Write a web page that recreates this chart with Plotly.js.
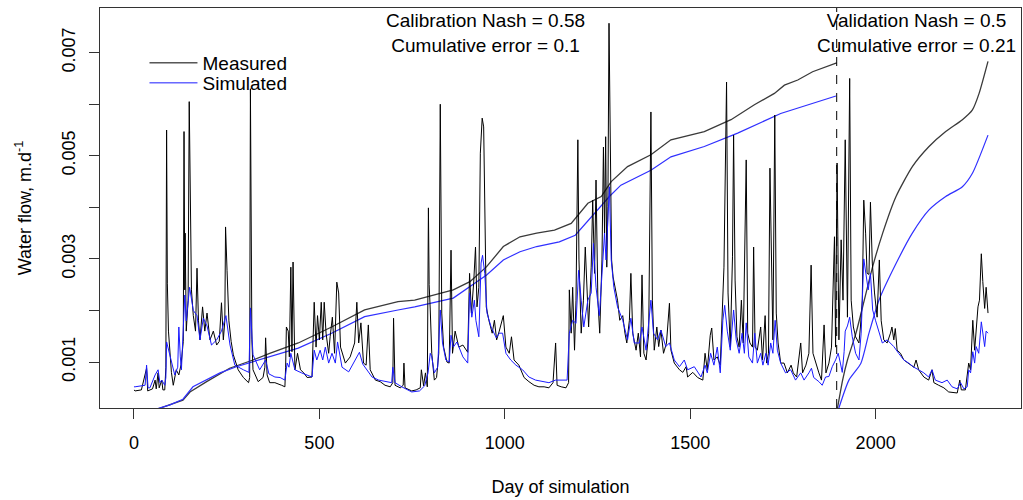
<!DOCTYPE html>
<html>
<head>
<meta charset="utf-8">
<script src="https://cdn.plot.ly/plotly-3.0.1.min.js"></script>
<style>html,body{margin:0;padding:0;background:#fff;}#chart{width:1023px;height:500px;}</style>
</head>
<body>
<div id="chart"></div>
<script>
// ---- data ----
// Daily measured water flow, [day, m/d]
const measured = [
[0,0.00046],[3,0.00044],[20,0.00046],[34,0.00088],[37,0.00044],[50,0.00048],[57,0.00065],[60,0.00048],[65,0.00079],[68,0.0005],
[75,0.00065],[78,0.00046],[83,0.00046],[86,0.0009],[88,0.0055],[90,0.00253],[93,0.0016],[101,0.0008],[106,0.00055],[114,0.00085],
[121,0.00075],[127,0.00095],[133,0.0014],[135,0.00547],[137,0.0024],[138,0.0035],[141,0.0016],[146,0.0022],[149,0.00605],[152,0.00395],
[155,0.0024],[160,0.0019],[166,0.0016],[170,0.00282],[174,0.0018],[178,0.00143],[185,0.00207],[191,0.0016],[197,0.00195],[205,0.00143],
[214,0.0016],[223,0.00133],[230,0.0014],[236,0.00215],[241,0.00143],[245,0.0018],[247,0.00362],[251,0.00277],[256,0.0018],[262,0.0014],
[268,0.00114],[281,0.00085],[295,0.0007],[309,0.0006],[312,0.0007],[314,0.0063],[318,0.00143],[321,0.00085],[335,0.00062],[348,0.0007],
[353,0.0009],[355,0.00147],[359,0.00075],[366,0.0006],[380,0.0006],[398,0.00055],[407,0.00052],[409,0.0009],[411,0.00168],[416,0.0016],
[419,0.0011],[423,0.00284],[426,0.0012],[429,0.00294],[434,0.00085],[441,0.00117],[449,0.00085],[458,0.00079],[467,0.0007],[480,0.00071],
[486,0.00216],[491,0.00129],[495,0.0019],[500,0.00143],[505,0.00216],[509,0.00143],[513,0.00216],[518,0.00156],[525,0.00117],[529,0.00149],
[535,0.00187],[541,0.00117],[547,0.00255],[552,0.00234],[557,0.00129],[570,0.00098],[583,0.0011],[595,0.00137],[601,0.00216],[606,0.00137],
[612,0.00176],[619,0.00098],[626,0.00094],[632,0.00172],[637,0.00085],[651,0.00065],[664,0.00062],[677,0.00055],[691,0.00052],[698,0.0006],
[700,0.00185],[704,0.00055],[718,0.0005],[726,0.00055],[728,0.00098],[731,0.0005],[749,0.00044],[761,0.00046],[772,0.0005],[775,0.00085],
[781,0.00054],[786,0.00079],[791,0.00052],[794,0.00399],[796,0.0025],[799,0.00201],[803,0.00117],[810,0.00065],[816,0.0007],[822,0.00117],
[826,0.006],[830,0.00195],[835,0.00129],[844,0.001],[850,0.00098],[855,0.00317],[859,0.00117],[866,0.0016],[871,0.00143],[876,0.00129],
[887,0.00133],[900,0.00119],[905,0.00272],[910,0.00195],[916,0.00253],[921,0.00323],[925,0.00207],[930,0.00245],[934,0.00505],[939,0.00573],
[943,0.00556],[946,0.0035],[950,0.00207],[957,0.00181],[966,0.00156],[972,0.00181],[978,0.00143],[985,0.0016],[996,0.0019],[1003,0.00129],
[1012,0.00117],[1018,0.00149],[1025,0.00104],[1038,0.00094],[1052,0.0007],[1065,0.00062],[1079,0.00055],[1092,0.00052],[1106,0.00052],[1119,0.0005],
[1130,0.0006],[1137,0.00137],[1141,0.00055],[1152,0.00052],[1165,0.0005],[1172,0.0006],[1174,0.0024],[1179,0.00156],[1183,0.00245],[1188,0.00123],
[1192,0.0022],[1197,0.00531],[1200,0.00298],[1206,0.00156],[1212,0.0022],[1217,0.00323],[1222,0.0022],[1226,0.00168],[1233,0.00284],[1237,0.00414],
[1242,0.00272],[1246,0.00453],[1251,0.0022],[1256,0.00156],[1262,0.00298],[1266,0.00517],[1269,0.0035],[1272,0.00537],[1275,0.00284],[1278,0.00401],
[1281,0.00757],[1285,0.00478],[1288,0.00298],[1292,0.00265],[1297,0.00245],[1304,0.0022],[1310,0.00181],[1318,0.0019],[1324,0.00156],[1329,0.00137],
[1336,0.00181],[1340,0.00272],[1345,0.00156],[1354,0.00123],[1360,0.00156],[1366,0.0011],[1370,0.00269],[1375,0.00117],[1381,0.00104],[1388,0.00156],
[1394,0.00585],[1398,0.0022],[1403,0.00123],[1410,0.00168],[1415,0.0013],[1421,0.00162],[1428,0.00117],[1436,0.00137],[1444,0.00214],[1448,0.00123],
[1457,0.00098],[1471,0.00085],[1480,0.0008],[1489,0.00091],[1493,0.00071],[1507,0.0008],[1520,0.0007],[1534,0.00065],[1540,0.00117],[1546,0.00085],
[1554,0.00152],[1558,0.00166],[1564,0.00104],[1573,0.0011],[1581,0.00094],[1587,0.00226],[1591,0.00284],[1598,0.00643],[1602,0.00234],[1608,0.00129],
[1614,0.00304],[1617,0.0054],[1621,0.00259],[1626,0.00149],[1632,0.00129],[1638,0.0022],[1643,0.00137],[1651,0.00492],[1655,0.00156],[1661,0.00137],
[1668,0.00129],[1671,0.00323],[1675,0.00129],[1681,0.00123],[1690,0.00168],[1695,0.00104],[1702,0.0019],[1706,0.00098],[1711,0.00117],[1715,0.00476],
[1720,0.00207],[1723,0.00143],[1728,0.00579],[1732,0.00195],[1737,0.00137],[1744,0.00098],[1753,0.00098],[1762,0.00079],[1772,0.00094],[1778,0.00079],
[1787,0.00071],[1798,0.00137],[1803,0.00079],[1812,0.00094],[1820,0.00117],[1826,0.00288],[1831,0.00117],[1838,0.00098],[1847,0.00079],[1854,0.00065],
[1861,0.00172],[1866,0.00079],[1874,0.00098],[1881,0.00129],[1885,0.00245],[1889,0.00343],[1892,0.00129],[1896,0.00486],[1901,0.00143],[1907,0.00337],
[1912,0.0022],[1915,0.00414],[1918,0.00531],[1924,0.00187],[1930,0.0065],[1934,0.0022],[1940,0.00168],[1946,0.00149],[1955,0.00137],[1959,0.00168],
[1964,0.0022],[1968,0.00414],[1973,0.0035],[1977,0.00272],[1982,0.0027],[1986,0.0041],[1991,0.00292],[1997,0.00234],[2004,0.00187],[2010,0.00298],
[2015,0.0018],[2022,0.00143],[2031,0.00137],[2040,0.00156],[2044,0.00168],[2049,0.00143],[2053,0.00165],[2058,0.00123],[2067,0.00117],[2076,0.00104],
[2089,0.00098],[2103,0.0009],[2109,0.00104],[2116,0.00085],[2130,0.00071],[2143,0.00065],[2152,0.00085],[2157,0.0006],[2170,0.00055],[2184,0.0005],
[2197,0.00042],[2211,0.0004],[2220,0.0004],[2227,0.00065],[2231,0.00046],[2242,0.00046],[2247,0.00071],[2251,0.00098],[2256,0.00085],[2262,0.00181],
[2267,0.00123],[2271,0.00156],[2276,0.00207],[2280,0.0022],[2285,0.0031],[2289,0.00256],[2294,0.00204],[2298,0.00245],[2303,0.00195]
];

// Daily simulated water flow, [day, m/d]
const simulated = [
[0,0.00052],[3,0.00052],[30,0.00055],[34,0.00094],[38,0.0005],[43,0.0005],[57,0.00075],[65,0.00085],[70,0.0006],[75,0.00065],
[83,0.00055],[86,0.0007],[88,0.00139],[96,0.00114],[110,0.00075],[118,0.0009],[121,0.00168],[125,0.0011],[128,0.00085],[137,0.0023],
[141,0.0018],[150,0.00245],[160,0.002],[170,0.0019],[178,0.00143],[187,0.00185],[197,0.0017],[209,0.00133],[223,0.00143],[236,0.0016],
[248,0.0019],[259,0.00133],[272,0.00094],[295,0.00085],[310,0.0008],[314,0.00205],[321,0.00114],[339,0.00085],[355,0.00104],[364,0.00077],
[380,0.00071],[394,0.0007],[407,0.00065],[413,0.00098],[418,0.0009],[423,0.00117],[434,0.00085],[452,0.00079],[480,0.00071],[486,0.00123],
[493,0.00104],[502,0.00123],[509,0.00104],[516,0.00129],[525,0.00098],[534,0.00117],[543,0.00098],[549,0.00139],[561,0.0009],[579,0.00081],
[597,0.00104],[608,0.00119],[617,0.00096],[629,0.00085],[642,0.00071],[660,0.00065],[677,0.00062],[695,0.0006],[698,0.0009],[704,0.0006],
[722,0.00052],[749,0.00042],[770,0.00044],[784,0.00054],[793,0.00079],[799,0.00117],[803,0.0011],[810,0.00079],[819,0.0009],[826,0.00201],
[832,0.00137],[841,0.00104],[850,0.001],[855,0.00152],[861,0.00129],[871,0.00139],[887,0.0011],[900,0.00098],[905,0.00234],[911,0.00187],
[918,0.0022],[922,0.00181],[930,0.00149],[936,0.00292],[940,0.00307],[946,0.00272],[952,0.00195],[963,0.00168],[977,0.00147],[985,0.00156],
[994,0.00156],[1003,0.00117],[1016,0.00104],[1030,0.00094],[1048,0.00085],[1065,0.00071],[1083,0.00065],[1101,0.00062],[1119,0.0006],[1137,0.00065],
[1152,0.00065],[1168,0.00065],[1174,0.00156],[1183,0.00181],[1192,0.00175],[1199,0.00278],[1206,0.0022],[1213,0.00168],[1224,0.0022],[1233,0.00234],
[1239,0.0033],[1246,0.00245],[1255,0.0019],[1264,0.00284],[1269,0.0035],[1273,0.00298],[1278,0.00375],[1282,0.0044],[1287,0.00298],[1294,0.00245],
[1304,0.00207],[1318,0.00181],[1331,0.00143],[1340,0.00185],[1349,0.00137],[1363,0.00137],[1370,0.00168],[1381,0.00123],[1394,0.0022],[1401,0.00156],
[1412,0.00143],[1421,0.00162],[1434,0.0013],[1444,0.00137],[1457,0.00104],[1471,0.00091],[1484,0.00104],[1493,0.00085],[1511,0.00091],[1529,0.00071],
[1540,0.00094],[1546,0.00079],[1555,0.00117],[1564,0.00094],[1573,0.00129],[1581,0.00079],[1588,0.00181],[1593,0.0021],[1600,0.0016],[1608,0.00123],
[1617,0.00201],[1624,0.00143],[1632,0.00117],[1640,0.00156],[1646,0.00117],[1651,0.00176],[1658,0.0011],[1668,0.00098],[1674,0.00156],[1681,0.00098],
[1690,0.00117],[1696,0.00094],[1704,0.00117],[1710,0.00094],[1717,0.00137],[1723,0.00117],[1729,0.00181],[1735,0.00123],[1744,0.00098],[1757,0.00079],
[1771,0.00085],[1784,0.00065],[1798,0.00079],[1807,0.00065],[1820,0.00079],[1827,0.00088],[1833,0.0007],[1847,0.00062],[1856,0.00055],[1865,0.00071],
[1874,0.00072],[1883,0.00091],[1892,0.00104],[1899,0.00117],[1905,0.00098],[1910,0.0008],[1915,0.0012],[1918,0.0016],[1924,0.0017],[1930,0.00187],
[1937,0.00149],[1946,0.00117],[1955,0.00104],[1961,0.00156],[1968,0.003],[1974,0.00272],[1980,0.0024],[1986,0.00272],[1992,0.00201],[2000,0.0018],
[2009,0.0016],[2018,0.00137],[2031,0.00143],[2040,0.00137],[2049,0.0013],[2062,0.00117],[2076,0.00104],[2089,0.00098],[2103,0.0009],[2116,0.00085],
[2130,0.00079],[2143,0.00071],[2152,0.00085],[2161,0.00065],[2179,0.0006],[2193,0.00065],[2206,0.00052],[2220,0.00048],[2229,0.0006],[2238,0.00048],
[2247,0.00052],[2251,0.00085],[2256,0.00079],[2262,0.0012],[2267,0.00098],[2271,0.0013],[2278,0.00117],[2285,0.00178],[2289,0.00156],[2294,0.0013],
[2298,0.0016],[2303,0.00156]
];

// Cumulative curves (drawn on the same axis), calibration period
const cumCalMeasured = [
[0,0.0],[60,0.00008],[132,0.00026],[151,0.00042],[196,0.00062],[258,0.00088],[321,0.00104],[366,0.00117],[443,0.00137],[533,0.00168],
[622,0.00201],[712,0.00217],[757,0.0022],[861,0.0024],[906,0.00256],[951,0.00285],[996,0.00324],[1041,0.00343],[1086,0.0035],[1134,0.00356],
[1179,0.00369],[1224,0.00408],[1260,0.00421],[1287,0.0045],[1331,0.00479],[1394,0.00502],[1448,0.00531],[1538,0.00547],[1610,0.0057],[1673,0.00599],
[1727,0.00621],[1754,0.00637],[1790,0.00647],[1830,0.00663],[1895,0.0068]
];
const cumCalSimulated = [
[0,0.0],[52,0.00007],[97,0.00017],[132,0.00028],[159,0.00052],[232,0.00079],[276,0.00091],[366,0.0011],[443,0.00127],[533,0.00156],
[622,0.00188],[712,0.00201],[757,0.00207],[861,0.00224],[906,0.00246],[951,0.00269],[996,0.00298],[1041,0.00314],[1086,0.00324],[1147,0.00333],
[1190,0.00346],[1242,0.00388],[1282,0.00421],[1313,0.00443],[1394,0.00472],[1448,0.00498],[1538,0.00518],[1628,0.00544],[1744,0.00582],[1893,0.00616]
];
// Cumulative curves, validation period
const cumValMeasured = [
[1895,0.00002],[1911,0.00065],[1924,0.00104],[1947,0.00156],[1965,0.00207],[1992,0.00285],[2019,0.0035],[2055,0.00421],[2099,0.00479],[2144,0.00518],
[2189,0.00547],[2234,0.0057],[2261,0.00589],[2279,0.00621],[2303,0.00683]
];
const cumValSimulated = [
[1896,0.0],[1928,0.00065],[1960,0.00097],[1982,0.00156],[2009,0.0022],[2055,0.00291],[2099,0.0035],[2144,0.00395],[2189,0.00421],[2234,0.0044],
[2261,0.00466],[2303,0.0054]
];

const splitDay = 1895;
const yTicks = [0.001, 0.003, 0.005, 0.007];
const xTicks = [0, 500, 1000, 1500, 2000];
const calibText = ['Calibration Nash = 0.58', 'Cumulative error = 0.1'];
const validText = ['Validation Nash = 0.5', 'Cumulative error = 0.21'];

// ---- chart ----
const xs = a => a.map(p => p[0]);
const ys = a => a.map(p => p[1]);
const FONT = 'Liberation Sans, Arial, Helvetica, sans-serif';

const traces = [
  {x: xs(cumCalMeasured), y: ys(cumCalMeasured), mode: 'lines', line: {color: '#3a3a3a', width: 1.3}, showlegend: false, hoverinfo: 'skip'},
  {x: xs(cumCalSimulated), y: ys(cumCalSimulated), mode: 'lines', line: {color: '#3030ff', width: 1.2}, showlegend: false, hoverinfo: 'skip'},
  {x: xs(cumValMeasured), y: ys(cumValMeasured), mode: 'lines', line: {color: '#3a3a3a', width: 1.3, shape: 'spline', smoothing: 0.6}, showlegend: false, hoverinfo: 'skip'},
  {x: xs(cumValSimulated), y: ys(cumValSimulated), mode: 'lines', line: {color: '#3030ff', width: 1.2, shape: 'spline', smoothing: 0.6}, showlegend: false, hoverinfo: 'skip'},
  {x: xs(measured), y: ys(measured), mode: 'lines', name: 'Measured', legend: 'legend', line: {color: '#000000', width: 1}},
  {x: xs(simulated), y: ys(simulated), mode: 'lines', name: 'Simulated', legend: 'legend2', line: {color: '#1a1aff', width: 1}}
];

const legendBase = {xanchor: 'left', yanchor: 'middle', bgcolor: 'rgba(0,0,0,0)', borderwidth: 0,
                    itemwidth: 48, font: {family: FONT, size: 19, color: '#000'}};

const layout = {
  width: 1023, height: 500,
  margin: {l: 100, r: 2, t: 8, b: 92},
  paper_bgcolor: '#ffffff', plot_bgcolor: '#ffffff',
  font: {family: FONT, size: 18, color: '#000'},
  showlegend: true,
  legend: Object.assign({x: 0.0483, y: 0.8625}, legendBase),
  legend2: Object.assign({x: 0.0483, y: 0.8125}, legendBase),
  xaxis: {
    range: [-91.6, 2392], tickmode: 'array', tickvals: xTicks, ticktext: xTicks.map(String),
    ticks: 'outside', ticklen: 10, tickwidth: 1, tickcolor: '#333', ticklabelstandoff: 8,
    showline: true, mirror: true, linecolor: '#333', linewidth: 1,
    showgrid: false, zeroline: false, tickfont: {family: FONT, size: 18},
    title: {text: 'Day of simulation', font: {family: FONT, size: 18}, standoff: 28}
  },
  yaxis: {
    range: [0.000109, 0.007866], tickmode: 'array', tickvals: yTicks, ticktext: yTicks.map(String),
    tickangle: -90, ticks: 'outside', ticklen: 10, tickwidth: 1, tickcolor: '#333', ticklabelstandoff: 7,
    minor: {tickmode: 'linear', tick0: 0, dtick: 0.001, ticks: 'outside', ticklen: 10, tickwidth: 1, tickcolor: '#333', showgrid: false},
    showline: true, mirror: true, linecolor: '#333', linewidth: 1,
    showgrid: false, zeroline: false, tickfont: {family: FONT, size: 18},
    title: {text: 'Water flow, m.d<sup>-1</sup>', font: {family: FONT, size: 18}, standoff: 22}
  },
  shapes: [
    {type: 'line', xref: 'x', yref: 'paper', x0: splitDay, x1: splitDay, y0: 0, y1: 1,
     line: {color: '#000', width: 1, dash: 'dash'}}
  ],
  annotations: [
    {xref: 'x', yref: 'paper', x: 948, y: 1.0, xanchor: 'center', yanchor: 'top', align: 'center', showarrow: false,
     text: calibText.join('<br>'), font: {family: FONT, size: 19, color: '#000'}},
    {xref: 'x', yref: 'paper', x: 2109, y: 1.0, xanchor: 'center', yanchor: 'top', align: 'center', showarrow: false,
     text: validText.join('<br>'), font: {family: FONT, size: 19, color: '#000'}}
  ]
};

Plotly.newPlot('chart', traces, layout, {staticPlot: true, displayModeBar: false});
</script>
</body>
</html>
